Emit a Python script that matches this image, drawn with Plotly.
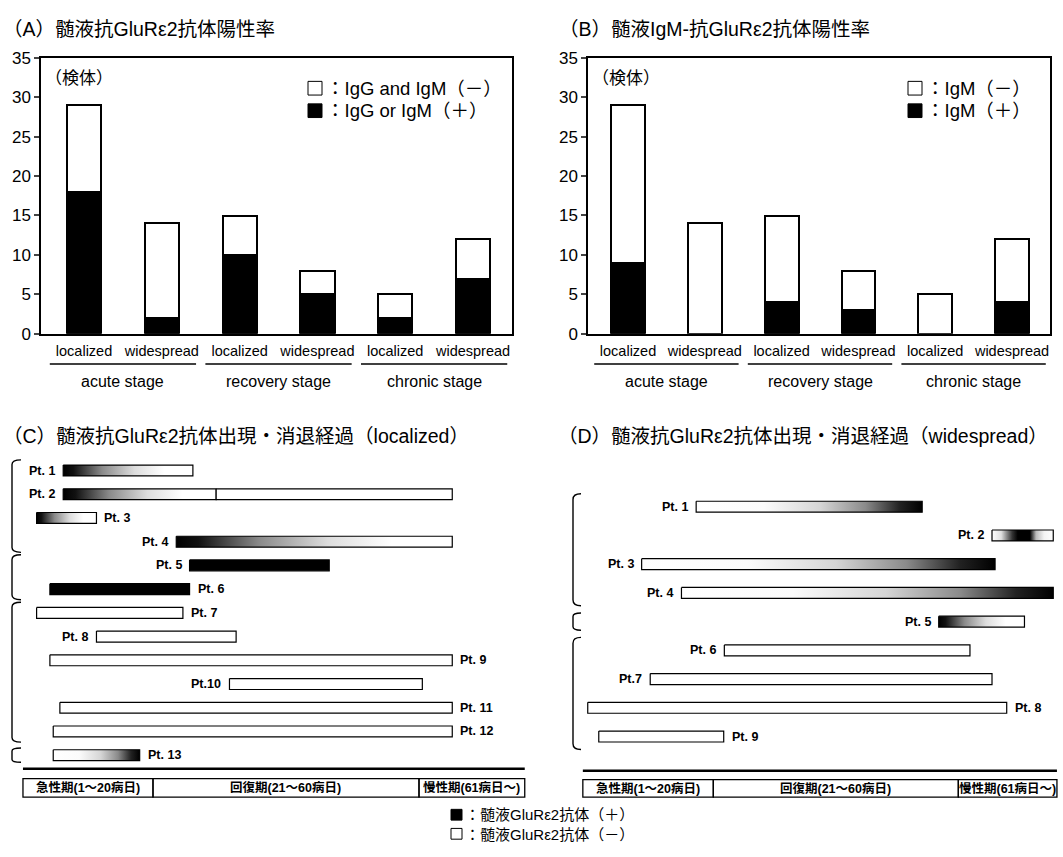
import plotly.graph_objects as go

W, H = 1063, 857
FONT = "Liberation Sans, Noto Sans CJK JP"

# ---------------- (A)/(B) specimen counts ----------------
subtypes = ["localized", "widespread", "localized", "widespread", "localized", "widespread"]
stages = ["acute stage", "recovery stage", "chronic stage"]
count_ticks = [0, 5, 10, 15, 20, 25, 30, 35]

a_positive = [18, 2, 10, 5, 2, 7]      # IgG or IgM (+)
a_negative = [11, 12, 5, 3, 3, 5]      # IgG and IgM (-)
b_positive = [9, 0, 4, 3, 0, 4]        # IgM (+)
b_negative = [20, 14, 11, 5, 5, 8]     # IgM (-)

# ---------------- (C)/(D) antibody course (disease day) ----------------
stage_names = ["急性期(1〜20病日)", "回復期(21〜60病日)", "慢性期(61病日〜)"]
stage_bounds = [20.5, 60.5]

c_labels = ["Pt. 1", "Pt. 2", "Pt. 3", "Pt. 4", "Pt. 5", "Pt. 6", "Pt. 7",
            "Pt. 8", "Pt. 9", "Pt.10", "Pt. 11", "Pt. 12", "Pt. 13"]
c_seg_patient = [1, 2, 2, 3, 4, 5, 6, 7, 8, 9, 10, 11, 12, 13]
c_seg_start = [7, 7, 30, 3, 24, 26, 5, 3, 12, 5, 32, 6.5, 5.5, 5.5]
c_seg_end = [26.5, 30, 65.5, 12, 65.5, 47, 26, 25, 33, 65.5, 61, 65.5, 65.5, 18.5]
c_seg_course = ["fade", "fade", "neg", "fade", "fade", "pos", "pos",
                "neg", "neg", "neg", "neg", "neg", "neg", "rise"]
c_label_side = ["left", "left", "right", "left", "left", "right", "right",
                "left", "right", "left", "right", "right", "right"]
c_groups = [[1, 4], [5, 6], [7, 12], [13, 13]]

d_labels = ["Pt. 1", "Pt. 2", "Pt. 3", "Pt. 4", "Pt. 5", "Pt. 6", "Pt.7", "Pt. 8", "Pt. 9"]
d_seg_patient = [1, 2, 3, 4, 5, 6, 7, 8, 9]
d_seg_start = [17.7, 66, 8.8, 15.3, 57.3, 22.3, 10.2, 0, 1.8]
d_seg_end = [54.6, 76, 66.5, 76, 71.3, 62.4, 66, 68.4, 22.2]
d_seg_course = ["rise", "peak", "rise", "rise", "fade", "neg", "neg", "neg", "neg"]
d_label_side = ["left", "left", "left", "left", "left", "left", "left", "right", "right"]
d_groups = [[1, 4], [5, 5], [6, 9]]

course_legend = ["：髄液GluRε2抗体（＋）", "：髄液GluRε2抗体（－）"]

# fill styles for the course bars
course_fill = {"pos": "#000000", "neg": "#ffffff"}
course_scale = {
    "fade": [[0, "#000"], [0.08, "#111"], [0.3, "#8a8a8a"], [0.55, "#dddddd"], [0.78, "#fff"], [1, "#fff"]],
    "rise": [[0, "#fff"], [0.3, "#fbfbfb"], [0.55, "#d5d5d5"], [0.75, "#8a8a8a"], [0.9, "#222"], [1, "#000"]],
    "peak": [[0, "#fff"], [0.15, "#e0e0e0"], [0.33, "#333"], [0.42, "#000"], [0.62, "#000"],
             [0.72, "#bbbbbb"], [0.85, "#f4f4f4"], [1, "#fff"]],
}


def px(x):
    return x / W


def py(y):
    return 1 - y / H


fig = go.Figure()
annotations = []
shapes = []

# ---------------- bar panels ----------------
bar_panels = [
    dict(ax="", pos=a_positive, neg=a_negative, xdom=(41, 512), xr=(-0.553, 5.501),
         title="（A）髄液抗GluRε2抗体陽性率", tx=1,
         legend=["：IgG and IgM（－）", "：IgG or IgM（＋）"], lx=308),
    dict(ax="2", pos=b_positive, neg=b_negative, xdom=(588, 1050), xr=(-0.521, 5.495),
         title="（B）髄液IgM-抗GluRε2抗体陽性率", tx=557,
         legend=["：IgM（－）", "：IgM（＋）"], lx=908),
]
cats = list(range(len(subtypes)))
for p in bar_panels:
    xa, ya = "x" + p["ax"], "y" + p["ax"]
    fig.add_trace(go.Bar(x=cats, y=p["pos"], width=0.44, xaxis=xa, yaxis=ya,
                         marker=dict(color="black", line=dict(color="black", width=2)),
                         showlegend=False, hoverinfo="skip"))
    fig.add_trace(go.Bar(x=cats, y=p["neg"], width=0.44, xaxis=xa, yaxis=ya,
                         marker=dict(color="white", line=dict(color="black", width=2)),
                         showlegend=False, hoverinfo="skip"))
    key = p["ax"]
    fig.update_layout(**{
        "xaxis" + key: dict(domain=[px(p["xdom"][0]), px(p["xdom"][1])], range=list(p["xr"]),
                            anchor=ya, tickvals=cats, ticktext=subtypes, ticks="",
                            tickfont=dict(size=14.5, color="black"), ticklabelstandoff=3,
                            showline=True, linecolor="black", linewidth=1.5, mirror=True,
                            showgrid=False, zeroline=False, fixedrange=True),
        "yaxis" + key: dict(domain=[py(332), py(50)], range=[0, 35], anchor=xa,
                            tickvals=count_ticks, ticks="outside", ticklen=5, tickwidth=1.5,
                            tickfont=dict(size=17, color="black"),
                            showline=True, linecolor="black", linewidth=1.5, mirror=True,
                            showgrid=False, zeroline=False, fixedrange=True),
    })
    # stage underlines and names
    for k, st in enumerate(stages):
        shapes.append(dict(type="line", xref=xa, yref="paper", x0=2 * k - 0.44, x1=2 * k + 1.44,
                           y0=py(363), y1=py(363), line=dict(color="black", width=1.5)))
        annotations.append(dict(x=2 * k + 0.5, y=py(381), xref=xa, yref="paper", text=st,
                                showarrow=False, font=dict(size=16), xanchor="center", yanchor="middle"))
    # panel title and specimen unit
    annotations.append(dict(x=px(p["tx"]), y=py(20), xref="paper", yref="paper", text=p["title"],
                            showarrow=False, font=dict(size=19.5), xanchor="left", yanchor="middle"))
    annotations.append(dict(x=px(p["xdom"][0] + 2), y=py(71), xref="paper", yref="paper", text="（検体）",
                            showarrow=False, font=dict(size=17), xanchor="left", yanchor="middle"))
    # legend swatches
    for j, (txt, col) in enumerate(zip(p["legend"], ["white", "black"])):
        yc = 81 + 23 * j
        shapes.append(dict(type="rect", xref="paper", yref="paper", x0=px(p["lx"]), x1=px(p["lx"] + 14),
                           y0=py(yc - 7), y1=py(yc + 7), fillcolor=col,
                           line=dict(color="black", width=1)))
        annotations.append(dict(x=px(p["lx"] + 16), y=py(yc), xref="paper", yref="paper", text=txt,
                                showarrow=False, font=dict(size=18.5), xanchor="left", yanchor="middle"))

# ---------------- course panels ----------------
course_panels = [
    dict(ax="3", labels=c_labels, pat=c_seg_patient, s=c_seg_start, e=c_seg_end, course=c_seg_course,
         side=c_label_side, groups=c_groups, xdom=(10, 530), xr=(-1.0, 77.19),
         ydom=(455, 775), yr=(13.49, 0.30), half=0.23, band=(0.95, 76.4), line_y=777,
         band_y=(787, 806), brx=(12, 21),
         title="（C）髄液抗GluRε2抗体出現・消退経過（localized）", tx=1),
    dict(ax="4", labels=d_labels, pat=d_seg_patient, s=d_seg_start, e=d_seg_end, course=d_seg_course,
         side=d_label_side, groups=d_groups, xdom=(575, 1063), xr=(-2.08, 77.59),
         ydom=(490, 775), yr=(10.055, 0.353), half=0.19, band=(-0.8, 76.6), line_y=779,
         band_y=(788, 806), brx=(573, 581),
         title="（D）髄液抗GluRε2抗体出現・消退経過（widespread）", tx=556),
]
for p in course_panels:
    xa, ya = "x" + p["ax"], "y" + p["ax"]
    fig.update_layout(**{
        "xaxis" + p["ax"]: dict(domain=[px(p["xdom"][0]), px(p["xdom"][1])], range=list(p["xr"]),
                                anchor=ya, visible=False, fixedrange=True),
        "yaxis" + p["ax"]: dict(domain=[py(p["ydom"][1]), py(p["ydom"][0])], range=list(p["yr"]),
                                anchor=xa, visible=False, fixedrange=True),
    })
    h = p["half"]
    for r, s, e, c in zip(p["pat"], p["s"], p["e"], p["course"]):
        tr = dict(x=[s, e, e, s, s], y=[r - h, r - h, r + h, r + h, r - h], mode="lines",
                  fill="toself", line=dict(color="black", width=1.2), xaxis=xa, yaxis=ya,
                  showlegend=False, hoverinfo="skip")
        if c in course_scale:
            tr["fillgradient"] = dict(type="horizontal", colorscale=course_scale[c], start=s, stop=e)
        else:
            tr["fillcolor"] = course_fill[c]
        fig.add_trace(go.Scatter(**tr))
    # patient labels
    for i, (lab, sd) in enumerate(zip(p["labels"], p["side"])):
        row = i + 1
        starts = [s for r, s in zip(p["pat"], p["s"]) if r == row]
        ends = [e for r, e in zip(p["pat"], p["e"]) if r == row]
        left = sd == "left"
        annotations.append(dict(x=min(starts) if left else max(ends), y=row, xref=xa, yref=ya,
                                text=f"<b>{lab}</b>", showarrow=False,
                                xanchor="right" if left else "left", yanchor="middle",
                                xshift=-6 if left else 6, font=dict(size=12.5)))
    # group brackets
    x0b, x1b = px(p["brx"][0]), px(p["brx"][1])
    for g0, g1 in p["groups"]:
        ext = 0.45 if g1 > g0 else 0.3
        top, bot = g0 - ext, g1 + ext
        rr = 0.2 if g1 > g0 else 0.12
        path = (f"M {x1b},{top} Q {x0b},{top} {x0b},{top + rr} "
                f"L {x0b},{bot - rr} Q {x0b},{bot} {x1b},{bot}")
        shapes.append(dict(type="path", xref="paper", yref=ya, path=path,
                           line=dict(color="black", width=1.4)))
    # stage band
    b0, b1 = p["band"]
    shapes.append(dict(type="line", xref=xa, yref="paper", x0=b0, x1=b1,
                       y0=py(p["line_y"]), y1=py(p["line_y"]), line=dict(color="black", width=2.5)))
    edges = [b0] + stage_bounds + [b1]
    for k, name in enumerate(stage_names):
        shapes.append(dict(type="rect", xref=xa, yref="paper", x0=edges[k], x1=edges[k + 1],
                           y0=py(p["band_y"][1]), y1=py(p["band_y"][0]),
                           line=dict(color="black", width=1.3), fillcolor="rgba(0,0,0,0)"))
        annotations.append(dict(x=(edges[k] + edges[k + 1]) / 2, y=py(sum(p["band_y"]) / 2),
                                xref=xa, yref="paper", text=f"<b>{name}</b>", showarrow=False,
                                xanchor="center", yanchor="middle", font=dict(size=12.5)))
    annotations.append(dict(x=px(p["tx"]), y=py(437), xref="paper", yref="paper", text=p["title"],
                            showarrow=False, font=dict(size=19.5), xanchor="left", yanchor="middle"))

# shared legend for the course panels (two lines in one text block)
leg_font = 15
leg_step = 1.3 * leg_font
leg_top = 824
for j, col in enumerate(["black", "white"]):
    yc = leg_top + leg_step * j
    shapes.append(dict(type="rect", xref="paper", yref="paper", x0=px(451), x1=px(462),
                       y0=py(yc - 5.5), y1=py(yc + 5.5), fillcolor=col, line=dict(color="black", width=1)))
annotations.append(dict(x=px(463), y=py(leg_top + leg_step / 2), xref="paper", yref="paper",
                        text="<br>".join(course_legend), align="left",
                        showarrow=False, font=dict(size=leg_font), xanchor="left", yanchor="middle"))

fig.update_layout(
    width=W, height=H, margin=dict(l=0, r=0, t=0, b=0),
    paper_bgcolor="white", plot_bgcolor="white",
    font=dict(family=FONT, color="black"),
    barmode="stack", bargap=0, showlegend=False,
    annotations=annotations, shapes=shapes,
)

fig.write_html("out.html")
